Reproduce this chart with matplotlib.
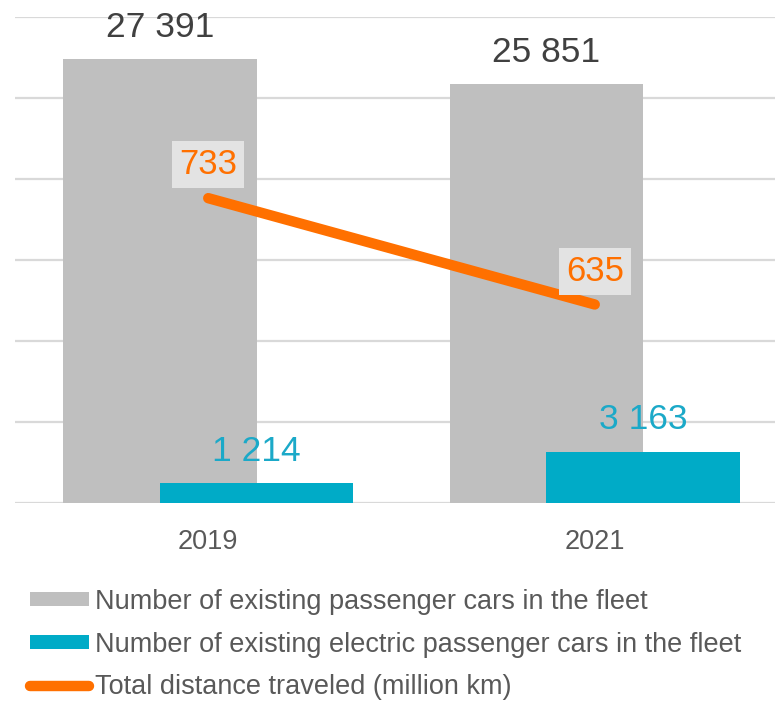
import matplotlib.pyplot as plt
import numpy as np

plt.rcParams['font.family'] = ['Liberation Sans', 'DejaVu Sans']

# Данные графика
years = ['2019', '2021']
cars = [27391, 25851]           # все легковые автомобили
electric = [1214, 3163]         # электромобили
distance = [733, 635]           # пробег, млн км

names = ['Number of existing passenger cars in the fleet',
         'Number of existing electric passenger cars in the fleet',
         'Total distance traveled (million km)']

gray = '#bfbfbf'
teal = '#00abc7'
orange = '#ff7000'
text_gray = '#595959'


def fmt(v):
    return '{:,}'.format(v).replace(',', ' ')


fig = plt.figure(figsize=(7.75, 7.03), dpi=100)
ax = fig.add_axes([15 / 775, 200 / 703, 773 / 775, 486 / 703])

x = np.arange(len(years))
w = 0.5
b1 = ax.bar(x - 0.125, cars, w, color=gray, label=names[0], zorder=2)
b2 = ax.bar(x + 0.125, electric, w, color=teal, label=names[1], zorder=3)

ax.set_xlim(-0.5, 1.5)
ax.set_ylim(0, 30000)
ax.set_yticks(np.arange(0, 30001, 5000))
ax.yaxis.grid(True, color='#d9d9d9', linewidth=1.6)
ax.set_axisbelow(True)
for s in ax.spines.values():
    s.set_visible(False)
ax.set_yticklabels([])
ax.tick_params(axis='y', length=0)
ax.set_xticks(x)
ax.set_xticklabels(years, fontsize=19.5, color=text_gray)
ax.tick_params(axis='x', length=0, pad=19)

for xi, v in zip(x - 0.125, cars):
    ax.annotate(fmt(v), (xi, v), xytext=(0, 23), textcoords='offset points',
                ha='center', va='center', fontsize=25.5, color='#404040')
for xi, v in zip(x + 0.125, electric):
    ax.annotate(fmt(v), (xi, v), xytext=(0, 23), textcoords='offset points',
                ha='center', va='center', fontsize=25.5, color='#1ba9c8')

# Вторая ось для пробега
ax2 = ax.twinx()
ax2.set_ylim(452, 900)
ln, = ax2.plot(x, distance, color=orange, linewidth=7.5,
               solid_capstyle='round', label=names[2])
ax2.axis('off')
for xi, v in zip(x, distance):
    ax2.annotate(str(v), (xi, v), xytext=(0, 24), textcoords='offset points',
                 ha='center', va='center', fontsize=25, color=orange,
                 bbox=dict(boxstyle='square,pad=0.2', facecolor='#e3e3e3',
                           edgecolor='none'))

leg = fig.legend([b1, b2, ln], names, loc='upper left',
                 bbox_to_anchor=(19 / 775, 1 - 578 / 703), frameon=False,
                 fontsize=19.5, handlelength=2.2, handleheight=0.45,
                 handletextpad=0.2, labelspacing=0.62, borderaxespad=0)
for t in leg.get_texts():
    t.set_color(text_gray)

fig.savefig('out.png', dpi=100)
